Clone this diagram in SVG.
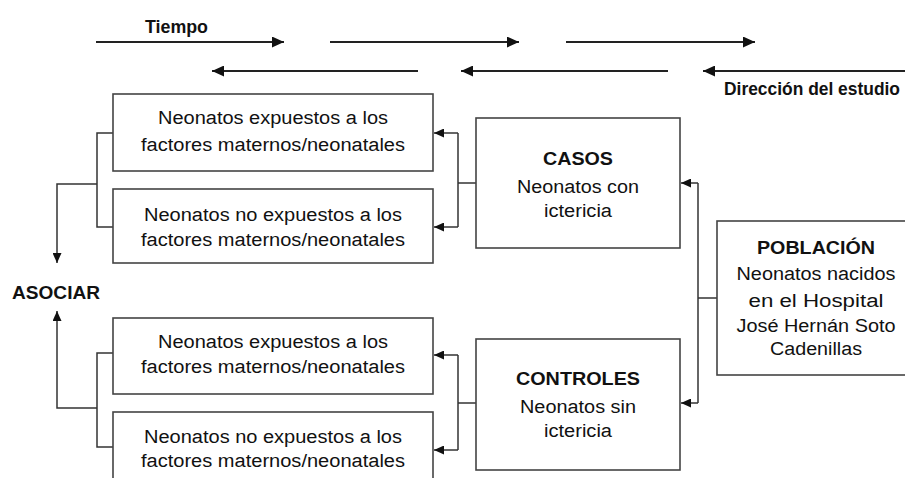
<svg xmlns="http://www.w3.org/2000/svg" width="905" height="478" viewBox="0 0 905 478">
<defs>
<marker id="ah" markerUnits="userSpaceOnUse" markerWidth="13" markerHeight="11" refX="12" refY="5.5" orient="auto">
<path d="M0,0 L12,5.5 L0,11 Z" fill="#111"/>
</marker>
<marker id="ahs" markerUnits="userSpaceOnUse" markerWidth="11" markerHeight="9" refX="10" refY="4.5" orient="auto">
<path d="M0,0 L10,4.5 L0,9 Z" fill="#111"/>
</marker>
<style>
.box{fill:#fff;stroke:#444;stroke-width:1.6}
.t{font-family:"Liberation Sans",Arial,sans-serif;font-size:18px;fill:#111;text-anchor:middle}
.b{font-family:"Liberation Sans",Arial,sans-serif;font-weight:bold;fill:#111}
.c{fill:none;stroke:#333;stroke-width:1.5}
.ta{fill:none;stroke:#222;stroke-width:2}
</style>
</defs>
<rect width="905" height="478" fill="#fff"/>

<g id="timeline">
<text class="b" x="145" y="33" font-size="19" textLength="63" lengthAdjust="spacingAndGlyphs">Tiempo</text>
<line class="ta" x1="96" y1="42" x2="284" y2="42" marker-end="url(#ah)"/>
<line class="ta" x1="330" y1="42" x2="519" y2="42" marker-end="url(#ah)"/>
<line class="ta" x1="566" y1="42" x2="755" y2="42" marker-end="url(#ah)"/>
<line class="ta" x1="418" y1="71" x2="212" y2="71" marker-end="url(#ah)"/>
<line class="ta" x1="668" y1="71" x2="461" y2="71" marker-end="url(#ah)"/>
<line class="ta" x1="905" y1="71" x2="703" y2="71" marker-end="url(#ah)"/>
<text class="b" x="724" y="95" font-size="18" textLength="176" lengthAdjust="spacingAndGlyphs">Dirección del estudio</text>
</g>

<g id="connectors">
<polyline class="c" points="476,183 458,183"/>
<polyline class="c" points="458,133 458,227"/>
<line class="c" x1="458" y1="133" x2="434" y2="133" marker-end="url(#ahs)"/>
<line class="c" x1="458" y1="227" x2="434" y2="227" marker-end="url(#ahs)"/>
<polyline class="c" points="476,403 458,403"/>
<polyline class="c" points="458,355 458,450"/>
<line class="c" x1="458" y1="355" x2="434" y2="355" marker-end="url(#ahs)"/>
<line class="c" x1="458" y1="450" x2="434" y2="450" marker-end="url(#ahs)"/>
<polyline class="c" points="717,298 698,298"/>
<polyline class="c" points="698,183 698,403"/>
<line class="c" x1="698" y1="183" x2="681" y2="183" marker-end="url(#ahs)"/>
<line class="c" x1="698" y1="403" x2="681" y2="403" marker-end="url(#ahs)"/>
<polyline class="c" points="113,133 97,133 97,227 113,227"/>
<polyline class="c" points="97,184 57,184 57,263" marker-end="url(#ahs)"/>
<polyline class="c" points="113,353 97,353 97,447 113,447"/>
<polyline class="c" points="97,408 57,408 57,311" marker-end="url(#ahs)"/>
</g>

<g id="asociar">
<text class="b" x="12" y="299" font-size="19" textLength="88" lengthAdjust="spacingAndGlyphs">ASOCIAR</text>
</g>

<g id="casos-expuestos">
<rect class="box" x="113" y="94" width="320" height="77"/>
<text class="t" x="273" y="124" textLength="230" lengthAdjust="spacingAndGlyphs">Neonatos expuestos a los</text>
<text class="t" x="273" y="151" textLength="264" lengthAdjust="spacingAndGlyphs">factores maternos/neonatales</text>
</g>

<g id="casos-no-expuestos">
<rect class="box" x="113" y="189" width="320" height="74"/>
<text class="t" x="273" y="221" textLength="258" lengthAdjust="spacingAndGlyphs">Neonatos no expuestos a los</text>
<text class="t" x="273" y="246" textLength="264" lengthAdjust="spacingAndGlyphs">factores maternos/neonatales</text>
</g>

<g id="controles-expuestos">
<rect class="box" x="113" y="318" width="320" height="76"/>
<text class="t" x="273" y="348" textLength="230" lengthAdjust="spacingAndGlyphs">Neonatos expuestos a los</text>
<text class="t" x="273" y="373" textLength="264" lengthAdjust="spacingAndGlyphs">factores maternos/neonatales</text>
</g>

<g id="controles-no-expuestos">
<rect class="box" x="113" y="412" width="320" height="80"/>
<text class="t" x="273" y="443" textLength="258" lengthAdjust="spacingAndGlyphs">Neonatos no expuestos a los</text>
<text class="t" x="273" y="467" textLength="264" lengthAdjust="spacingAndGlyphs">factores maternos/neonatales</text>
</g>

<g id="casos">
<rect class="box" x="476" y="118" width="204" height="130"/>
<text class="b" x="578" y="165" font-size="18" text-anchor="middle" textLength="70" lengthAdjust="spacingAndGlyphs">CASOS</text>
<text class="t" x="578" y="193" textLength="122" lengthAdjust="spacingAndGlyphs">Neonatos con</text>
<text class="t" x="578" y="217" textLength="68" lengthAdjust="spacingAndGlyphs">ictericia</text>
</g>

<g id="controles">
<rect class="box" x="476" y="339" width="204" height="131"/>
<text class="b" x="578" y="385" font-size="18" text-anchor="middle" textLength="124" lengthAdjust="spacingAndGlyphs">CONTROLES</text>
<text class="t" x="578" y="413" textLength="116" lengthAdjust="spacingAndGlyphs">Neonatos sin</text>
<text class="t" x="578" y="437" textLength="68" lengthAdjust="spacingAndGlyphs">ictericia</text>
</g>

<g id="poblacion">
<rect class="box" x="717" y="221" width="200" height="154"/>
<text class="b" x="816" y="254" font-size="18" text-anchor="middle" textLength="118" lengthAdjust="spacingAndGlyphs">POBLACIÓN</text>
<text class="t" x="816" y="280" textLength="159" lengthAdjust="spacingAndGlyphs">Neonatos nacidos</text>
<text class="t" x="816" y="307" textLength="135" lengthAdjust="spacingAndGlyphs">en el Hospital</text>
<text class="t" x="816" y="332" textLength="159" lengthAdjust="spacingAndGlyphs">José Hernán Soto</text>
<text class="t" x="816" y="355" textLength="92" lengthAdjust="spacingAndGlyphs">Cadenillas</text>
</g>
</svg>
